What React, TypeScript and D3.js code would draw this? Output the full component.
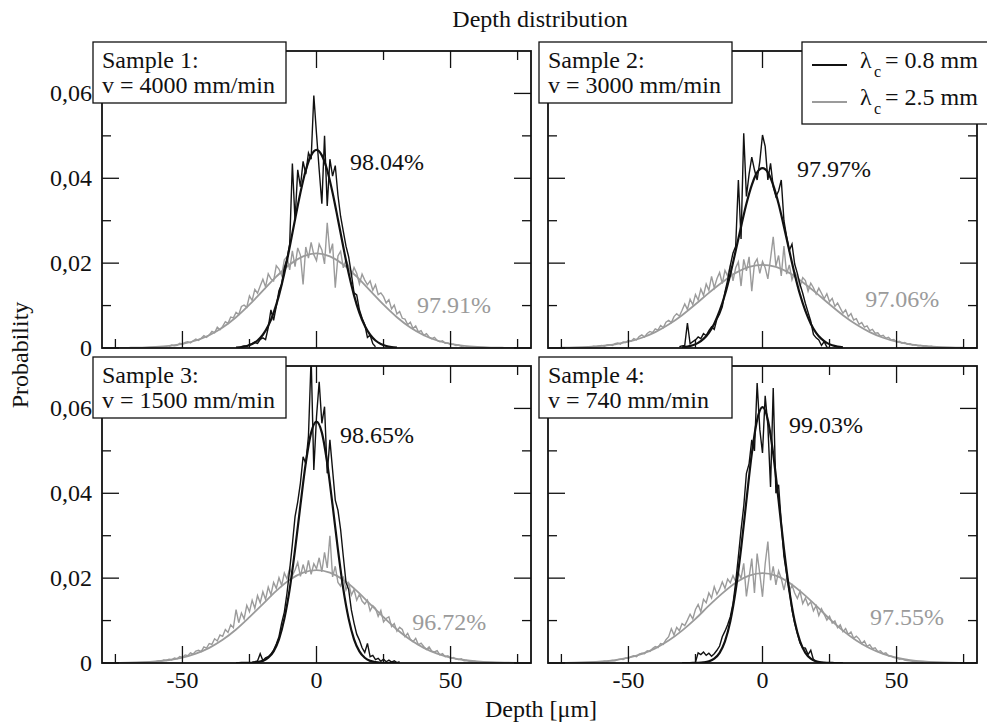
import React from "react";
import * as d3 from "d3";

// ---------- axis ticks (probability stored ×1000) ----------
const xMajorTicks = [-50, 0, 50];
const xMinorTicks = [-75, -25, 25, 75];
const xMajorLabels = ["-50", "0", "50"];
const yMajorTicks = [0, 20, 40, 60];
const yMajorLabels = ["0", "0,02", "0,04", "0,06"];
const yMinorTicks = [10, 30, 50];

// ---------- texts ----------
const titleText = "Depth distribution";
const xAxisTitle = "Depth [μm]";
const yAxisTitle = "Probability";
const sampleTitles = ["Sample 1:", "Sample 2:", "Sample 3:", "Sample 4:"];
const sampleSpeeds = ["v = 4000 mm/min", "v = 3000 mm/min", "v = 1500 mm/min", "v = 740 mm/min"];
const blackPct = ["98.04%", "97.97%", "98.65%", "99.03%"];
const grayPct = ["97.91%", "97.06%", "96.72%", "97.55%"];
const legendLabels = ["= 0.8 mm", "= 2.5 mm"];

// ---------- measured histograms (1 µm bins, probability ×1000) ----------
const black1Start = -28;
const black1 = [0.3, 0.5, 0.4, 0.8, 1.0, 1.3, 1.1, 2.0, 2.4, 2.0, 4.8, 9.0, 6.5, 9.8, 13.5, 15.0, 19.0, 21.0, 24.5, 43.5, 30.0, 42.0, 38.0, 44.0, 41.0, 46.0, 44.5, 59.5, 50.5, 42.0, 34.0, 50.0, 33.5, 44.5, 40.5, 43.0, 36.0, 31.0, 27.5, 24.0, 21.5, 17.5, 13.0, 12.5, 9.0, 7.0, 5.5, 2.5, 3.0, 1.0, 0.3];
const gray1Start = -55;
const gray1 = [0.4, 0.7, 0.5, 0.6, 1.1, 0.9, 1.3, 1.5, 1.2, 1.7, 2.1, 1.8, 2.3, 2.9, 2.5, 3.1, 3.9, 3.6, 4.9, 4.3, 5.1, 6.2, 5.8, 7.3, 7.1, 8.4, 7.9, 9.8, 10.1, 9.6, 12.3, 11.2, 13.8, 12.9, 14.6, 16.2, 14.4, 17.5, 16.3, 15.8, 19.4, 18.6, 17.1, 20.8, 21.5, 18.4, 22.9, 19.2, 23.6, 21.9, 15.0, 23.8, 21.2, 24.9, 22.0, 20.6, 24.5, 23.1, 19.8, 29.5, 22.3, 24.6, 14.2, 21.7, 22.8, 18.9, 20.7, 19.3, 16.9, 19.0, 17.6, 15.1, 17.4, 16.0, 14.9, 15.8, 13.6, 14.9, 12.6, 13.0, 12.1, 10.6, 11.4, 9.2, 10.1, 8.0, 8.6, 7.0, 6.8, 5.5, 6.1, 4.6, 5.2, 3.8, 4.1, 3.0, 3.4, 2.6, 2.2, 2.5, 1.8, 1.5, 1.7, 1.1, 1.2, 0.8, 0.9, 0.6, 0.7, 0.4, 0.5];

const black2Start = -31;
const black2 = [0.3, 0.5, 0.6, 5.9, 1.0, 1.5, 1.9, 2.6, 2.2, 3.4, 2.9, 4.1, 5.0, 4.4, 6.8, 8.0, 9.7, 13.2, 16.0, 19.5, 22.4, 24.0, 39.6, 25.7, 50.6, 35.7, 41.0, 45.0, 42.0, 39.6, 44.0, 50.2, 47.5, 39.6, 43.5, 38.0, 35.7, 37.0, 39.6, 30.0, 26.2, 23.0, 24.5, 19.8, 17.6, 15.0, 12.9, 10.5, 8.4, 6.3, 3.2, 2.4, 1.9, 0.6, 1.5, 0.2, 0.1];
const gray2Start = -65;
const gray2 = [0.3, 0.2, 0.4, 0.3, 0.5, 0.6, 0.4, 0.7, 0.8, 0.6, 1.0, 1.2, 0.9, 1.4, 1.3, 1.8, 1.6, 2.2, 1.9, 2.7, 3.1, 2.6, 3.4, 3.9, 3.6, 4.5, 4.2, 5.3, 4.8, 6.1, 6.5, 6.0, 7.4, 8.1, 7.5, 8.9, 10.4, 9.1, 11.5, 10.2, 12.6, 11.3, 13.9, 12.4, 15.1, 13.6, 16.9, 14.2, 16.3, 17.8, 15.2, 18.3, 17.0, 19.4, 15.8, 18.9, 20.3, 14.6, 20.9, 18.2, 21.5, 13.4, 19.9, 21.0, 17.6, 20.4, 18.9, 16.3, 21.1, 26.2, 19.3, 21.8, 17.0, 24.0, 17.4, 19.6, 16.1, 17.9, 16.8, 14.5, 16.6, 15.9, 13.4, 15.3, 14.2, 12.7, 14.1, 12.9, 11.6, 12.8, 10.9, 11.7, 9.8, 10.6, 9.4, 8.2, 9.0, 7.4, 8.1, 6.6, 6.9, 5.6, 6.0, 4.9, 5.2, 4.1, 4.4, 3.5, 3.6, 2.8, 3.0, 2.3, 2.5, 1.9, 2.0, 1.4, 1.6, 1.1, 1.3, 0.9, 1.0, 0.7, 0.8, 0.5, 0.6, 0.4, 0.5, 0.3, 0.4, 0.2, 0.3];

const black3Start = -24;
const black3 = [0.2, 0.3, 0.5, 2.2, 0.6, 1.2, 1.5, 2.1, 3.0, 4.5, 6.2, 9.4, 12.0, 16.5, 22.0, 28.0, 34.5, 38.0, 42.4, 48.6, 47.0, 53.5, 72.0, 45.5, 58.0, 66.3, 56.5, 60.4, 44.7, 52.6, 45.5, 38.4, 36.0, 31.4, 25.1, 19.0, 17.3, 12.5, 9.4, 6.8, 5.4, 3.6, 2.5, 4.6, 1.5, 1.8, 0.8, 1.1, 0.4, 0.9, 0.3, 0.7, 0.2, 0.5, 0.1, 0.3];
const gray3Start = -60;
const gray3 = [0.3, 0.5, 0.4, 0.7, 0.6, 0.9, 0.7, 1.2, 1.0, 1.5, 1.3, 1.9, 1.7, 2.4, 2.1, 2.8, 3.0, 2.7, 3.8, 3.5, 4.6, 4.4, 5.7, 5.2, 6.6, 6.3, 7.9, 7.2, 9.0, 8.3, 12.6, 9.5, 11.8, 10.4, 13.6, 12.1, 14.8, 12.9, 15.9, 14.2, 16.8, 15.0, 17.9, 16.1, 19.0, 17.6, 20.1, 18.3, 21.2, 19.8, 22.3, 20.6, 21.9, 23.7, 20.4, 23.2, 21.0, 24.2, 20.9, 23.4, 22.2, 24.8, 21.5, 26.1, 22.4, 30.0, 20.3, 22.8, 19.0, 18.1, 20.4, 17.2, 18.8, 16.0, 17.3, 14.8, 16.2, 14.6, 13.9, 14.8, 12.3, 13.5, 12.9, 11.0, 12.4, 9.7, 10.5, 10.9, 8.6, 9.3, 7.5, 8.4, 7.9, 6.2, 7.0, 5.6, 5.0, 5.8, 4.3, 4.7, 3.9, 3.2, 3.8, 2.8, 2.6, 2.9, 1.9, 2.2, 1.5, 1.7, 1.1, 1.3, 0.9, 0.8, 1.0, 0.5, 0.6, 0.4, 0.3, 0.4, 0.2];

const black4Start = -25;
const black4 = [0.2, 2.4, 2.0, 2.6, 1.8, 2.3, 1.6, 2.2, 3.0, 4.0, 6.2, 7.5, 9.0, 10.9, 14.0, 19.0, 25.1, 31.4, 36.9, 44.7, 47.0, 52.6, 50.0, 66.0, 55.0, 49.5, 63.0, 56.0, 41.5, 64.8, 40.0, 42.0, 32.9, 25.1, 21.0, 17.3, 12.5, 9.4, 7.0, 4.7, 3.6, 3.5, 2.0, 3.0, 0.8, 0.4, 0.2, 0.1];
const gray4Start = -60;
const gray4 = [0.2, 0.4, 0.3, 0.5, 0.6, 0.5, 0.8, 0.9, 0.8, 1.2, 1.1, 1.5, 1.7, 1.5, 2.1, 2.3, 2.2, 2.9, 2.7, 3.4, 3.9, 3.6, 4.6, 4.4, 5.5, 6.2, 8.1, 6.6, 8.4, 7.6, 9.3, 8.8, 10.1, 11.5, 10.4, 12.6, 13.8, 12.1, 15.0, 14.2, 16.5, 15.3, 18.0, 16.2, 17.4, 19.1, 17.6, 19.8, 18.9, 20.6, 19.2, 21.3, 20.0, 23.5, 15.7, 20.2, 24.6, 16.5, 25.8, 21.0, 15.6, 23.4, 28.6, 19.5, 22.8, 18.4, 21.7, 19.9, 17.2, 20.1, 16.8, 18.4, 16.5, 15.2, 16.9, 14.0, 15.3, 13.6, 14.4, 12.3, 13.5, 11.2, 12.8, 11.5, 10.1, 11.0, 9.4, 9.9, 8.3, 9.0, 7.4, 8.1, 6.7, 7.3, 5.8, 6.3, 5.7, 4.6, 5.2, 3.9, 4.3, 3.4, 3.6, 2.7, 2.9, 2.2, 2.4, 1.7, 1.6, 1.3, 1.2, 0.9, 1.0, 0.7, 0.6, 0.5, 0.4, 0.3, 0.3, 0.2, 0.1];

// ---------- fitted curves, read at fixed depths (probability ×1000) ----------
const fitBlackDepths = [-30, -28, -26, -24, -22, -20, -18, -16, -14, -12, -10, -8, -6, -4, -2, 0, 2, 4, 6, 8, 10, 12, 14, 16, 18, 20, 22, 24, 26, 28, 30];
const fitBlack1 = [0.11, 0.23, 0.48, 0.95, 1.77, 3.12, 5.22, 8.27, 12.4, 17.6, 23.8, 30.3, 36.6, 41.9, 45.4, 46.7, 45.4, 41.9, 36.6, 30.3, 23.8, 17.6, 12.4, 8.27, 5.22, 3.12, 1.77, 0.95, 0.48, 0.23, 0.11];
const fitBlack2 = [0.16, 0.34, 0.65, 1.21, 2.14, 3.59, 5.74, 8.73, 12.6, 17.4, 22.9, 28.6, 34.0, 38.4, 41.4, 42.4, 41.4, 38.4, 34.0, 28.6, 22.9, 17.4, 12.6, 8.73, 5.74, 3.59, 2.14, 1.21, 0.65, 0.34, 0.16];
const fitBlack3 = [0, 0.01, 0.02, 0.06, 0.19, 0.5, 1.23, 2.75, 5.59, 10.4, 17.4, 26.7, 37.2, 47.1, 54.3, 56.9, 54.3, 47.1, 37.2, 26.7, 17.4, 10.4, 5.59, 2.75, 1.23, 0.5, 0.19, 0.06, 0.02, 0.01, 0];
const fitBlack4 = [0, 0, 0.01, 0.04, 0.14, 0.39, 1.02, 2.4, 5.11, 9.83, 17.1, 26.9, 38.3, 49.3, 57.3, 60.3, 57.3, 49.3, 38.3, 26.9, 17.1, 9.83, 5.11, 2.4, 1.02, 0.39, 0.14, 0.04, 0.01, 0, 0];
const fitGrayDepths = [-75, -70, -65, -60, -55, -50, -45, -40, -35, -30, -25, -20, -15, -10, -5, 0, 5, 10, 15, 20, 25, 30, 35, 40, 45, 50, 55, 60, 65, 70, 75];
const fitGray1 = [0.02, 0.05, 0.11, 0.25, 0.51, 0.98, 1.77, 3.02, 4.82, 7.24, 10.2, 13.5, 16.8, 19.7, 21.6, 22.3, 21.6, 19.7, 16.8, 13.5, 10.2, 7.24, 4.82, 3.02, 1.77, 0.98, 0.51, 0.25, 0.11, 0.05, 0.02];
const fitGray2 = [0.06, 0.12, 0.25, 0.48, 0.86, 1.48, 2.42, 3.75, 5.53, 7.73, 10.3, 13.0, 15.5, 17.7, 19.1, 19.6, 19.1, 17.7, 15.5, 13.0, 10.3, 7.73, 5.53, 3.75, 2.42, 1.48, 0.86, 0.48, 0.25, 0.12, 0.06];
const fitGray3 = [0.04, 0.08, 0.18, 0.37, 0.71, 1.29, 2.21, 3.57, 5.46, 7.89, 10.8, 13.9, 17.0, 19.6, 21.3, 21.9, 21.3, 19.6, 17.0, 13.9, 10.8, 7.89, 5.46, 3.57, 2.21, 1.29, 0.71, 0.37, 0.18, 0.08, 0.04];
const fitGray4 = [0.04, 0.08, 0.18, 0.36, 0.69, 1.25, 2.13, 3.46, 5.29, 7.64, 10.4, 13.5, 16.4, 18.9, 20.6, 21.2, 20.6, 18.9, 16.4, 13.5, 10.4, 7.64, 5.29, 3.46, 2.13, 1.25, 0.69, 0.36, 0.18, 0.08, 0.04];

// ---------- layout ----------
const W = 987;
const H = 727;
const PW = 429;
const PH = 297;
const panelPos = [
  { left: 102, top: 51 },
  { left: 548, top: 51 },
  { left: 102, top: 366 },
  { left: 548, top: 366 },
];
// annotation anchors in data units (depth, prob×1000)
const blackPctPos = [[12.5, 42], [12.9, 40.3], [8.8, 51.9], [9.9, 54.2]];
const grayPctPos = [[37.5, 8.25], [38.3, 9.66], [35.7, 7.8], [40.1, 8.96]];

const GRAY = "#9b9b9b";
const FONT = "Liberation Serif, DejaVu Serif, Times New Roman, serif";
const tStyle = { fontFamily: FONT };

const toPoints = (start: number, vals: number[]) => vals.map((v, i) => [start + i, v] as [number, number]);
const zipPoints = (xs: number[], vals: number[]) => vals.map((v, i) => [xs[i], v] as [number, number]);

const panels = [
  { black: toPoints(black1Start, black1), gray: toPoints(gray1Start, gray1), fitB: zipPoints(fitBlackDepths, fitBlack1), fitG: zipPoints(fitGrayDepths, fitGray1) },
  { black: toPoints(black2Start, black2), gray: toPoints(gray2Start, gray2), fitB: zipPoints(fitBlackDepths, fitBlack2), fitG: zipPoints(fitGrayDepths, fitGray2) },
  { black: toPoints(black3Start, black3), gray: toPoints(gray3Start, gray3), fitB: zipPoints(fitBlackDepths, fitBlack3), fitG: zipPoints(fitGrayDepths, fitGray3) },
  { black: toPoints(black4Start, black4), gray: toPoints(gray4Start, gray4), fitB: zipPoints(fitBlackDepths, fitBlack4), fitG: zipPoints(fitGrayDepths, fitGray4) },
];

export default function App() {
  const x = d3.scaleLinear().domain([-80, 80]).range([0, PW]);
  const y = d3.scaleLinear().domain([0, 70]).range([PH, 0]);
  const rough = d3.line<[number, number]>().x((d) => x(d[0])).y((d) => y(d[1]));
  const smooth = d3
    .line<[number, number]>()
    .x((d) => x(d[0]))
    .y((d) => y(d[1]))
    .curve(d3.curveMonotoneX);

  const MAJ = 17;
  const MIN = 9;

  return (
    <svg
      width={W}
      height={H}
      viewBox={`0 0 ${W} ${H}`}
      style={{ position: "absolute", left: 0, top: 0, background: "#fff", fontFamily: FONT }}
    >
      <rect x={0} y={0} width={W} height={H} fill="#fff" />
      <defs>
        {panelPos.map((p, i) => (
          <clipPath id={`clip${i}`} key={i}>
            <rect x={0} y={0} width={PW} height={PH} />
          </clipPath>
        ))}
      </defs>

      <text x={540} y={27} textAnchor="middle" fontSize={24} fill="#111" style={tStyle}>
        {titleText}
      </text>

      {panels.map((pd, i) => {
        const p = panelPos[i];
        const isBottom = i >= 2;
        const isLeft = i % 2 === 0;
        return (
          <g key={i} transform={`translate(${p.left},${p.top})`}>
            <g clipPath={`url(#clip${i})`}>
              <path d={rough(pd.gray) || ""} fill="none" stroke={GRAY} strokeWidth={1.4} />
              <path d={smooth(pd.fitG) || ""} fill="none" stroke={GRAY} strokeWidth={1.8} />
              <path d={rough(pd.black) || ""} fill="none" stroke="#111" strokeWidth={1.4} />
              <path d={smooth(pd.fitB) || ""} fill="none" stroke="#111" strokeWidth={2.2} />
            </g>

            {xMajorTicks.map((t) => (
              <g key={`xM${t}`} stroke="#111" strokeWidth={1.3}>
                <line x1={x(t)} x2={x(t)} y1={PH} y2={PH - MAJ} />
                <line x1={x(t)} x2={x(t)} y1={0} y2={MAJ} />
              </g>
            ))}
            {xMinorTicks.map((t) => (
              <g key={`xm${t}`} stroke="#111" strokeWidth={1.3}>
                <line x1={x(t)} x2={x(t)} y1={PH} y2={PH - MIN} />
                <line x1={x(t)} x2={x(t)} y1={0} y2={MIN} />
              </g>
            ))}
            {yMajorTicks.map((t) => (
              <g key={`yM${t}`} stroke="#111" strokeWidth={1.3}>
                <line x1={0} x2={MAJ} y1={y(t)} y2={y(t)} />
                <line x1={PW} x2={PW - MAJ} y1={y(t)} y2={y(t)} />
              </g>
            ))}
            {yMinorTicks.map((t) => (
              <g key={`ym${t}`} stroke="#111" strokeWidth={1.3}>
                <line x1={0} x2={MIN} y1={y(t)} y2={y(t)} />
                <line x1={PW} x2={PW - MIN} y1={y(t)} y2={y(t)} />
              </g>
            ))}

            <rect x={0} y={0} width={PW} height={PH} fill="none" stroke="#111" strokeWidth={1.8} />

            {isLeft &&
              yMajorTicks.map((t, k) => (
                <text key={`yl${t}`} x={-10} y={y(t) + 8} textAnchor="end" fontSize={24} fill="#111" style={tStyle}>
                  {yMajorLabels[k]}
                </text>
              ))}
            {isBottom &&
              xMajorTicks.map((t, k) => (
                <text key={`xl${t}`} x={x(t)} y={PH + 25} textAnchor="middle" fontSize={24} fill="#111" style={tStyle}>
                  {xMajorLabels[k]}
                </text>
              ))}

            <text x={x(blackPctPos[i][0])} y={y(blackPctPos[i][1])} fontSize={24} fill="#111" style={tStyle}>
              {blackPct[i]}
            </text>
            <text x={x(grayPctPos[i][0])} y={y(grayPctPos[i][1])} fontSize={24} fill={GRAY} style={tStyle}>
              {grayPct[i]}
            </text>

            <rect x={-9} y={-9} width={193} height={61} fill="#fff" stroke="#111" strokeWidth={1.3} />
            <text x={0} y={17} fontSize={24} fill="#111" style={tStyle}>
              {sampleTitles[i]}
            </text>
            <text x={0} y={41.5} fontSize={24} fill="#111" style={tStyle}>
              {sampleSpeeds[i]}
            </text>

            {i === 1 && (
              <g>
                <rect x={254} y={-9} width={200} height={82} fill="#fff" stroke="#111" strokeWidth={1.3} />
                <line x1={264} x2={299} y1={14} y2={14} stroke="#111" strokeWidth={2.2} />
                <line x1={264} x2={299} y1={51} y2={51} stroke={GRAY} strokeWidth={1.8} />
                <text x={312} y={17} fontSize={24} fill="#111" style={tStyle}>λ</text>
                <text x={326} y={26} fontSize={16} fill="#111" style={tStyle}>c</text>
                <text x={337} y={17} fontSize={24} fill="#111" style={tStyle}>{legendLabels[0]}</text>
                <text x={312} y={54} fontSize={24} fill="#111" style={tStyle}>λ</text>
                <text x={326} y={63} fontSize={16} fill="#111" style={tStyle}>c</text>
                <text x={337} y={54} fontSize={24} fill="#111" style={tStyle}>{legendLabels[1]}</text>
              </g>
            )}
          </g>
        );
      })}

      <text x={541} y={717} textAnchor="middle" fontSize={24} fill="#111" style={tStyle}>
        {xAxisTitle}
      </text>
      <text transform="translate(28,355) rotate(-90)" textAnchor="middle" fontSize={24} fill="#111" style={tStyle}>
        {yAxisTitle}
      </text>
    </svg>
  );
}
